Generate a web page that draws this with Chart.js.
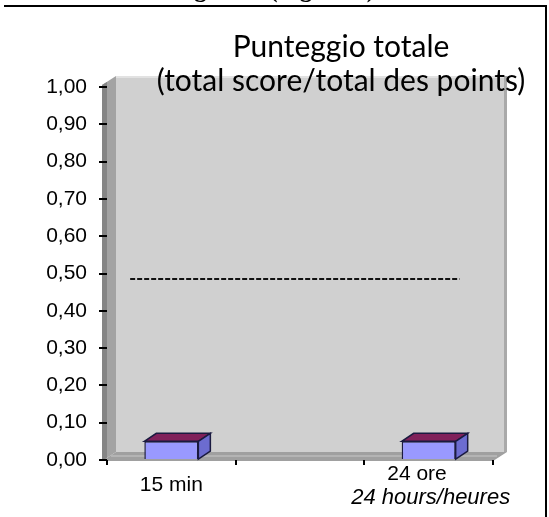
<!DOCTYPE html>
<html>
<head>
<meta charset="utf-8">
<script src="https://cdn.jsdelivr.net/npm/chart.js@4/dist/chart.umd.min.js"></script>
<style>
  html, body { margin: 0; padding: 0; background: #fff; overflow: hidden; }
  #wrap { position: relative; width: 549px; height: 517px; }
  #frame { position: absolute; left: 4px; top: 5px; width: 541px; height: 600px;
           border-top: 2px solid #000; border-right: 2px solid #000; pointer-events: none; }
  #caption { position: absolute; left: 172px; top: -25px; line-height: 25px;
             font: bold 25px 'Liberation Serif', serif; white-space: nowrap; }
</style>
</head>
<body>
<div id="wrap">
  <canvas id="grafico" width="549" height="517"></canvas>
  <div id="caption">Figura 1 (Figure 1)</div>
  <div id="frame"></div>
</div>
<script>
// Dati
const categorie = ['15 min', '', '24 ore    '];
const sottoEtichette = ['', '', '24 hours/heures'];
const punteggi = [0.05, null, 0.05];
const tickY = ['0,00', '0,10', '0,20', '0,30', '0,40', '0,50', '0,60', '0,70', '0,80', '0,90', '1,00'];
const titolo = ['Punteggio totale', '(total score/total des points)'];
// linea tratteggiata di riferimento (x in unità di categoria)
const rifX = [-0.32, 2.24];
const rifY = [0.485, 0.485];

const DX = 12, DY = -8; // profondità 3D

// Pareti e pavimento (effetto 3D) disegnati prima di tutto
const pareti = {
    id: 'pareti',
    beforeDraw(chart) {
        const a = chart.chartArea;
        const c = chart.ctx;
        c.save();
        // parete di fondo
        c.fillStyle = '#d0d0d0';
        c.fillRect(a.left + 9, a.top - 11, a.right + 14 - (a.left + 9), a.bottom - 8 - (a.top - 11));
        c.fillStyle = '#e2e2e2';
        c.fillRect(a.left + 9, a.top - 11, a.right + 14 - (a.left + 9), 2);
        c.fillStyle = '#a9a9a9';
        c.fillRect(a.right + 11, a.top - 11, 3, a.bottom - 8 - (a.top - 11));
        // parete laterale
        c.fillStyle = '#a3a3a3';
        c.beginPath();
        c.moveTo(a.left - 5, a.bottom + 1);
        c.lineTo(a.left - 5, a.top - 2);
        c.lineTo(a.left + 9, a.top - 11);
        c.lineTo(a.left + 9, a.bottom - 8);
        c.closePath();
        c.fill();
        c.fillStyle = '#858585';
        c.beginPath();
        c.moveTo(a.left - 5, a.bottom + 1);
        c.lineTo(a.left - 5, a.top - 2);
        c.lineTo(a.left, a.top - 5);
        c.lineTo(a.left, a.bottom - 2);
        c.closePath();
        c.fill();
        // pavimento
        c.fillStyle = '#a0a0a0';
        c.beginPath();
        c.moveTo(a.left - 5, a.bottom + 1);
        c.lineTo(a.right, a.bottom + 1);
        c.lineTo(a.right + 14, a.bottom - 8);
        c.lineTo(a.left + 9, a.bottom - 8);
        c.closePath();
        c.fill();
        c.fillStyle = '#b4b4b4';
        c.fillRect(a.left + 4, a.bottom - 5, a.right - a.left, 2);
        c.restore();
    }
};

// Facce superiori e laterali delle barre
const barre3d = {
    id: 'barre3d',
    afterDatasetsDraw(chart) {
        const meta = chart.getDatasetMeta(0);
        const c = chart.ctx;
        c.save();
        c.lineWidth = 1.5;
        c.strokeStyle = '#1a1a40';
        meta.data.forEach((bar, i) => {
            if (punteggi[i] == null) return;
            const p = bar.getProps(['x', 'y', 'base', 'width'], true);
            const l = p.x - p.width / 2, r = p.x + p.width / 2;
            c.fillStyle = '#80205a';
            c.beginPath();
            c.moveTo(l, p.y);
            c.lineTo(l + DX, p.y + DY);
            c.lineTo(r + DX, p.y + DY);
            c.lineTo(r, p.y);
            c.closePath();
            c.fill();
            c.stroke();
            c.fillStyle = '#6c6cd0';
            c.beginPath();
            c.moveTo(r, p.y);
            c.lineTo(r + DX, p.y + DY);
            c.lineTo(r + DX, p.base + DY);
            c.lineTo(r, p.base);
            c.closePath();
            c.fill();
            c.stroke();
        });
        c.restore();
    }
};

// Titolo sovrapposto e seconda riga in corsivo delle etichette
const testi = {
    id: 'testi',
    afterDraw(chart) {
        const c = chart.ctx;
        c.save();
        c.fillStyle = '#000';
        c.textAlign = 'center';
        c.textBaseline = 'alphabetic';
        c.font = '30px Lato';
        c.fillText(titolo[0], 341, 57);
        c.fillText(titolo[1], 341, 91);
        const sx = chart.scales.x;
        c.font = 'italic 22px "Liberation Sans"';
        c.textBaseline = 'middle';
        sottoEtichette.forEach((t, i) => {
            if (!t) return;
            c.fillText(t, sx.getPixelForTick(i) + 2, sx.top + 3 + 23 + 11.5);
        });
        c.restore();
    }
};

new Chart(document.getElementById('grafico'), {
    type: 'bar',
    data: {
        labels: categorie,
        datasets: [{
            data: punteggi,
            backgroundColor: '#9999ff',
            borderColor: '#1a1a40',
            borderWidth: 1.5,
            grouped: false,
            barPercentage: 0.42,
            categoryPercentage: 1
        }, {
            type: 'line',
            xAxisID: 'xRif',
            data: rifX.map((x, i) => ({ x: x, y: rifY[i] })),
            borderColor: '#111',
            borderWidth: 2,
            borderDash: [5, 2],
            pointRadius: 0,
            fill: false
        }]
    },
    options: {
        responsive: false,
        animation: false,
        events: [],
        layout: { padding: { left: 0, right: 56, top: 87, bottom: 0 } },
        plugins: { legend: { display: false }, title: { display: false }, tooltip: { enabled: false } },
        scales: {
            x: {
                border: { display: false },
                grid: { offset: true, drawOnChartArea: false, drawTicks: true, tickLength: 5, color: '#000', lineWidth: 2 },
                ticks: {
                    color: '#000',
                    padding: -2,
                    maxRotation: 0,
                    autoSkip: false,
                    font: ctx => ({ family: 'Liberation Sans', size: 21, lineHeight: sottoEtichette[ctx.index] ? '23px' : '44px' })
                },
                afterFit(scale) { scale.height = 57; }
            },
            xRif: { type: 'linear', display: false, offset: false, min: -0.5, max: 2.5 },
            y: {
                min: 0,
                max: 1,
                border: { display: false },
                grid: { drawOnChartArea: false, drawTicks: true, tickLength: 8, color: '#000', lineWidth: 2 },
                ticks: {
                    stepSize: 0.1,
                    color: '#000',
                    padding: 12,
                    font: { family: 'Liberation Sans', size: 21 },
                    callback: (v, i) => tickY[i]
                },
                afterFit(scale) { scale.width = 107; }
            }
        }
    },
    plugins: [pareti, barre3d, testi]
});
</script>
</body>
</html>
